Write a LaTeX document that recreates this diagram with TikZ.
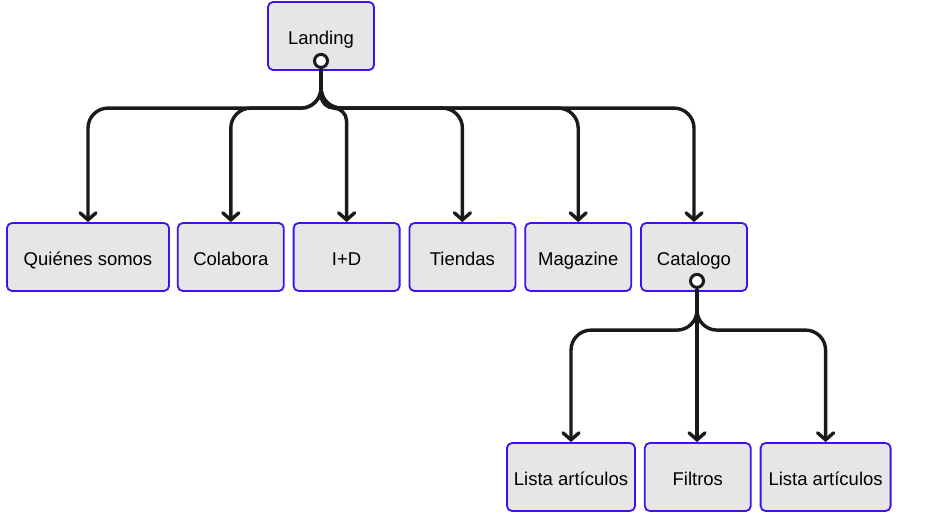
\documentclass[tikz,border=0pt]{standalone}
\usepackage{fontspec}
\setmainfont{Liberation Sans}
\usetikzlibrary{positioning,arrows.meta}
\definecolor{boxblue}{RGB}{64,16,240}
\definecolor{boxgray}{RGB}{230,230,230}
\definecolor{inkline}{RGB}{26,26,26}

\begin{document}
\begin{tikzpicture}[
  x=1pt, y=-1pt,
  font=\fontsize{18.5}{22}\selectfont,
  page/.style={draw=boxblue, fill=boxgray, line width=1.8pt, rounded corners=5pt,
    minimum width=106pt, minimum height=68pt, inner sep=2pt, text height=19pt, text depth=3pt},
  port/.style={circle, draw=inkline, fill=white, line width=3pt, minimum size=13pt, inner sep=0pt},
  link/.style={-{Straight Barb[length=7pt, width=16pt, line cap=round]}, line width=3.4pt,
    inkline, rounded corners=20pt}
]
\useasboundingbox (0,0) rectangle (934,515);
% ---------- Level 0: landing ----------
\node[page] (landing) at (321,36) {Landing};
\node[port] (lport) at ([yshift=10pt]landing.south) {};
% ---------- Level 1: sections ----------
\node[page, minimum width=162pt] (quienes) at (88,257) {Quiénes somos};
\node[page, right=7pt of quienes] (colabora) {Colabora};
\node[page, right=8pt of colabora] (imasd) {I+D};
\node[page, right=8pt of imasd] (tiendas) {Tiendas};
\node[page, right=8pt of tiendas] (magazine) {Magazine};
\node[page, right=8pt of magazine] (catalogo) {Catalogo};
\node[port] (cport) at ([xshift=3pt, yshift=11pt]catalogo.south) {};
% ---------- Level 2: catalogo ----------
\node[page, minimum width=128pt] (lista1) at (571,477) {Lista artículos};
\node[page, right=8pt of lista1] (filtros) {Filtros};
\node[page, minimum width=130pt, right=8pt of filtros] (lista2) {Lista artículos};
% ---------- connectors ----------
\foreach \dst in {quienes,colabora,tiendas,magazine,catalogo}
  \draw[link] (lport.south) |- ([yshift=114pt]\dst.north) -- (\dst.north);
\draw[link, rounded corners=13pt] (lport.south) |- ([yshift=114pt]imasd.north) -- (imasd.north);
\foreach \dst in {lista1,lista2}
  \draw[link] (cport.south) |- ([yshift=112pt]\dst.north) -- (\dst.north);
\draw[link] (cport.south) -- (cport.south |- filtros.north);
\end{tikzpicture}
\end{document}
